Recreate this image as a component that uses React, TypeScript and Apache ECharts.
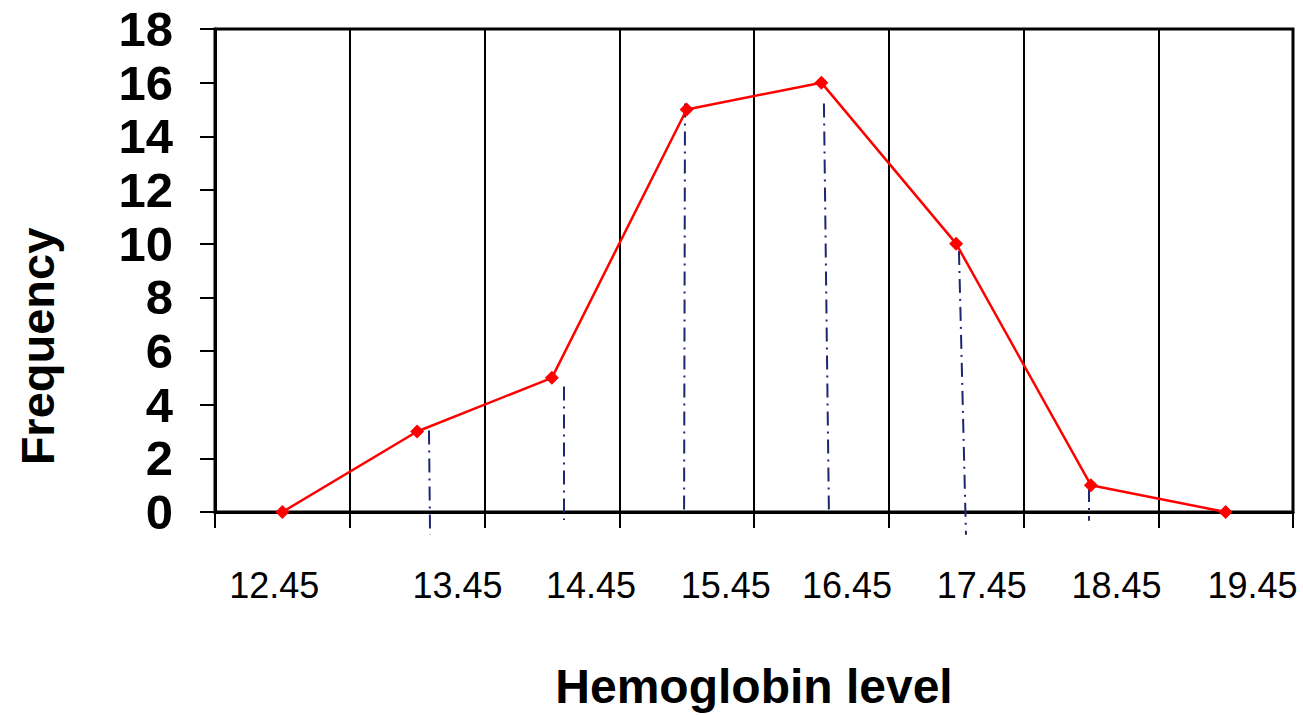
import React, { useEffect, useRef } from "react";
import * as echarts from "echarts";

const categories = ["12.45", "13.45", "14.45", "15.45", "16.45", "17.45", "18.45", "19.45"];
const frequency = [0, 3, 5, 15, 16, 10, 1, 0];

// tick labels drawn under the axis (positions in category units, as offset in the original)
const tickLabels = ["12.45", "13.45", "14.45", "15.45", "16.45", "17.45", "18.45", "19.45"];
const tickLabelPos = [0.44, 1.8, 2.79, 3.79, 4.69, 5.69, 6.69, 7.7];

// dash-dot drop lines (x in category units, y in frequency units)
const dropTopX = [1.588, 2.59, 3.488, 4.519, 5.521, 6.486];
const dropTopY = [3.04, 4.68, 15.22, 15.22, 9.73, 0.89];
const dropBottomX = [1.596, 2.59, 3.481, 4.556, 5.573, 6.486];
const dropBottomY = [-0.85, -0.3, -0.07, -0.07, -0.85, -0.33];

const yTicks = { min: 0, max: 18, interval: 2 };

const FONT = "'Liberation Sans', Arial, Helvetica, sans-serif";

export default function App() {
  const ref = useRef<HTMLDivElement>(null);
  useEffect(() => {
    if (!ref.current) return;
    const chart = echarts.init(ref.current, null, { renderer: "svg" });
    const dropSeries = dropTopX.map((x, i) => ({
      type: "line",
      xAxisIndex: 1,
      yAxisIndex: 0,
      clip: false,
      symbol: "none",
      silent: true,
      z: 1,
      lineStyle: { color: "#1f2670", width: 2, type: [14, 6, 2, 6] },
      data: [
        [x, dropTopY[i]],
        [dropBottomX[i], dropBottomY[i]],
      ],
    }));
    chart.setOption({
      animation: false,
      backgroundColor: "#ffffff",
      textStyle: { fontFamily: FONT },
      grid: {
        left: 215,
        right: 10,
        top: 29,
        bottom: 201,
        show: true,
        borderColor: "#000",
        borderWidth: 3,
        containLabel: false,
      },
      xAxis: [
        {
          type: "category",
          data: categories,
          boundaryGap: true,
          name: "Hemoglobin level",
          nameLocation: "middle",
          nameGap: 150,
          nameTextStyle: { fontSize: 48, fontWeight: "bold", color: "#000", fontFamily: FONT },
          axisLine: { show: true, lineStyle: { color: "#000", width: 3 } },
          axisTick: { show: true, length: 16, lineStyle: { color: "#000", width: 2 } },
          axisLabel: { show: false },
          splitLine: { show: true, lineStyle: { color: "#000", width: 2 } },
        },
        {
          type: "value",
          min: 0,
          max: 8,
          position: "bottom",
          axisLine: { show: false },
          axisTick: { show: false },
          splitLine: { show: false },
          axisLabel: {
            show: true,
            customValues: tickLabelPos,
            formatter: (v: number, idx: number) => {
              const j = tickLabelPos.indexOf(v);
              return tickLabels[j >= 0 ? j : idx] ?? "";
            },
            fontSize: 36,
            color: "#000",
            fontFamily: FONT,
            margin: 55,
          },
        },
      ],
      yAxis: {
        type: "value",
        min: yTicks.min,
        max: yTicks.max,
        interval: yTicks.interval,
        name: "Frequency",
        nameLocation: "middle",
        nameRotate: 90,
        nameGap: 154,
        nameTextStyle: {
          fontSize: 47,
          fontWeight: "bold",
          color: "#000",
          fontFamily: FONT,
          padding: [0, 152, 0, 0],
        },
        axisLine: { show: true, lineStyle: { color: "#000", width: 3 } },
        axisTick: { show: true, length: 15, lineStyle: { color: "#000", width: 2 } },
        axisLabel: { fontSize: 49, fontWeight: "bold", color: "#000", margin: 42, fontFamily: FONT },
        splitLine: { show: false },
      },
      series: [
        ...dropSeries,
        {
          type: "line",
          xAxisIndex: 0,
          yAxisIndex: 0,
          data: frequency,
          symbol: "diamond",
          symbolSize: 14,
          z: 3,
          itemStyle: { color: "#ff0000" },
          lineStyle: { color: "#ff0000", width: 2.5 },
        },
      ],
    });
    return () => chart.dispose();
  }, []);
  return (
    <div
      ref={ref}
      style={{ position: "fixed", left: 0, top: 0, width: 1303, height: 715 }}
    />
  );
}
